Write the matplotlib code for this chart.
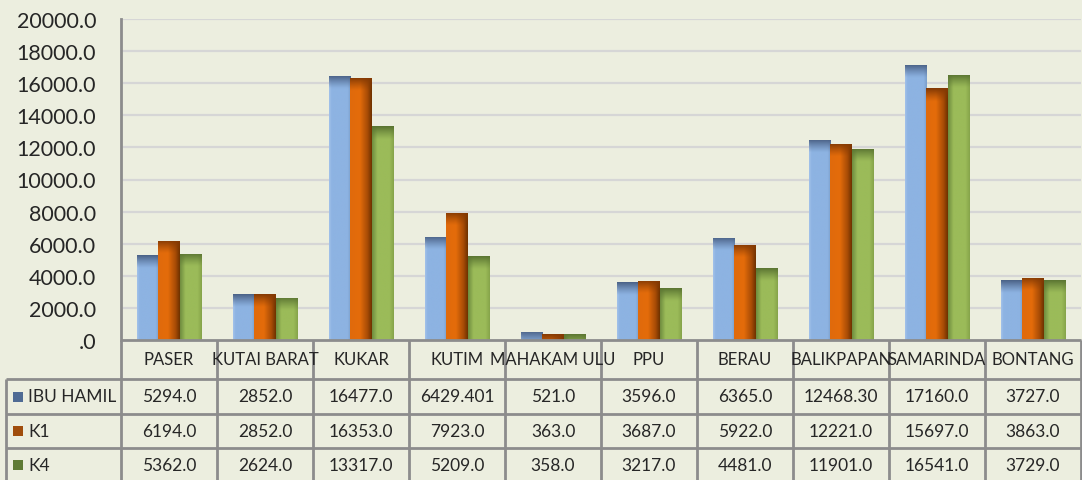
import numpy as np
import matplotlib
matplotlib.use("Agg")
import matplotlib.pyplot as plt
from matplotlib.transforms import blended_transform_factory
from matplotlib.colors import to_rgb

categories = ["PASER", "KUTAI BARAT", "KUKAR", "KUTIM", "MAHAKAM ULU", "PPU",
              "BERAU", "BALIKPAPAN", "SAMARINDA", "BONTANG"]
series_names = ["IBU HAMIL", "K1", "K4"]
ibu_hamil = ["5294.0", "2852.0", "16477.0", "6429.401", "521.0", "3596.0",
             "6365.0", "12468.30", "17160.0", "3727.0"]
k1 = ["6194.0", "2852.0", "16353.0", "7923.0", "363.0", "3687.0",
      "5922.0", "12221.0", "15697.0", "3863.0"]
k4 = ["5362.0", "2624.0", "13317.0", "5209.0", "358.0", "3217.0",
      "4481.0", "11901.0", "16541.0", "3729.0"]
y_ticks = list(range(0, 20001, 2000))

series_text = [ibu_hamil, k1, k4]
series_vals = [[float(s) for s in ser] for ser in series_text]

BG = "#ECEEDF"
TXT = "#262626"
LINE = "#8C8C8C"
FONT = "Lato"

# gradient definitions: horizontal stops (pos, color), top-dark color, legend color
grads = [
    ([(0.0, "#A3C2EA"), (0.12, "#8DB3E2"), (0.85, "#8DB3E2"), (1.0, "#7C9FCC")], "#4A6186", "#4F6B94"),
    ([(0.0, "#E06A0C"), (0.45, "#E46C0A"), (0.8, "#A84C06"), (1.0, "#6E3200")], "#843A04", "#A04D0C"),
    ([(0.0, "#6F8C3F"), (0.25, "#9BBB59"), (0.8, "#9BBB59"), (1.0, "#86A44A")], "#5B7532", "#5F7B35"),
]

W, H = 1082, 481
fig = plt.figure(figsize=(W / 100, H / 100), dpi=100, facecolor=BG)
ax_left, ax_right = 121, 1081
ax_top, ax_bot = 20, 341
ax = fig.add_axes([ax_left / W, 1 - ax_bot / H, (ax_right - ax_left) / W, (ax_bot - ax_top) / H])
ax.set_facecolor(BG)

n = len(categories)
x = np.arange(n)
bw = 0.225
offsets = [-bw, 0, bw]

band_px = 13
units_per_px = 20000 / (ax_bot - ax_top)


def hprofile(stops, w=60):
    pos = np.array([s[0] for s in stops])
    cols = np.array([to_rgb(s[1]) for s in stops])
    t = np.linspace(0, 1, w)
    return np.stack([np.interp(t, pos, cols[:, c]) for c in range(3)], axis=1)


for si, vals in enumerate(series_vals):
    stops, dark, _ = grads[si]
    bars = ax.bar(x + offsets[si], vals, width=bw, color=stops[1][1], linewidth=0, zorder=2)
    prof = hprofile(stops)
    dark_rgb = np.array(to_rgb(dark))
    for b, v in zip(bars, vals):
        rows = 200
        yy = np.linspace(0, v, rows)
        band = band_px * units_per_px
        f = np.clip((yy - (v - band)) / band, 0, 1) ** 1.2
        img = prof[None, :, :] * (1 - f[:, None, None]) + dark_rgb[None, None, :] * f[:, None, None]
        x0 = b.get_x()
        im = ax.imshow(img, extent=(x0, x0 + b.get_width(), 0, v), origin="lower",
                       aspect="auto", zorder=3, interpolation="bilinear")
        im.set_clip_path(b)

ax.set_xlim(-0.5, n - 0.5)
ax.set_ylim(0, 20000)
ax.set_yticks(y_ticks)
ax.set_yticklabels([(f"{v:.1f}" if v != 0 else ".0") for v in y_ticks],
                   fontsize=15.5, color=TXT, family=FONT)
ax.tick_params(axis="y", length=0, pad=18)
ax.set_xticks([])
for y in y_ticks[1:]:
    ax.axhline(y, color="#D6D6D6", lw=1.6, zorder=1)
for s in ["top", "right", "bottom"]:
    ax.spines[s].set_visible(False)
ax.spines["left"].set_color(LINE)
ax.spines["left"].set_linewidth(2)

# data table
tr = blended_transform_factory(ax.transData, fig.transFigure)
fy = lambda py: 1 - py / H
fx = lambda px: px / W
row_y = [341, 380, 415, 449, 483]
lkw = dict(color=LINE, lw=2, clip_on=False, solid_capstyle="butt")

fig.add_artist(plt.Line2D([fx(ax_left), fx(ax_right)], [fy(341), fy(341)], transform=fig.transFigure, **lkw))
for ry in row_y[1:]:
    fig.add_artist(plt.Line2D([fx(6), fx(ax_right)], [fy(ry), fy(ry)], transform=fig.transFigure, **lkw))
for i in range(n + 1):
    fig.add_artist(plt.Line2D([i - 0.5, i - 0.5], [fy(341), fy(483)], transform=tr, **lkw))
fig.add_artist(plt.Line2D([fx(6), fx(6)], [fy(380), fy(483)], transform=fig.transFigure, **lkw))

for i, c in enumerate(categories):
    t = fig.text(0, fy((341 + 380) / 2), c, transform=tr, ha="center", va="center",
                 fontsize=12, color=TXT, family=FONT)
    t.set_x(i)
for r, (name, ser) in enumerate(zip(series_names, series_text)):
    cy = fy((row_y[r + 1] + row_y[r + 2]) / 2)
    _, _, mk = grads[r]
    fig.add_artist(plt.Rectangle((fx(13), cy - 5 / H), 10 / W, 10 / H, transform=fig.transFigure,
                                 facecolor=mk, edgecolor="none"))
    fig.text(fx(28), cy, name, ha="left", va="center", fontsize=12.5, color=TXT, family=FONT)
    for i, s in enumerate(ser):
        t = fig.text(0, cy, s, transform=tr, ha="center", va="center",
                     fontsize=12.5, color=TXT, family=FONT)
        t.set_x(i)

fig.savefig("out.png", dpi=100, facecolor=BG)
